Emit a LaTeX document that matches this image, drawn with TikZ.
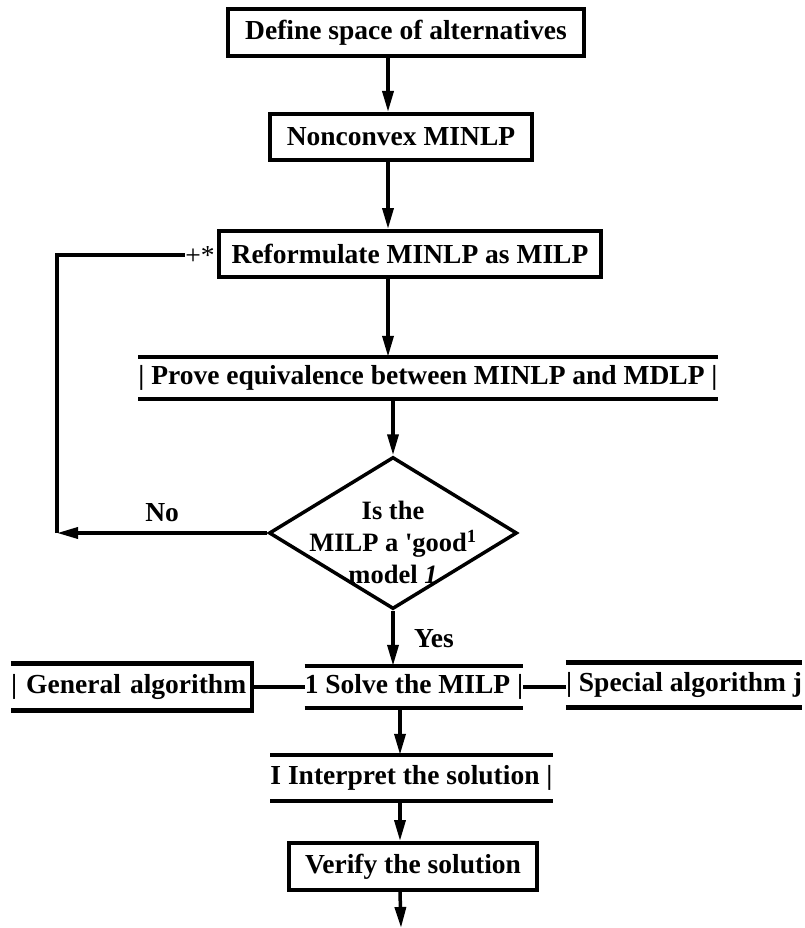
\documentclass[tikz,border=0pt]{standalone}
\usepackage{fontspec}
\setmainfont{Liberation Serif}
\usetikzlibrary{positioning,arrows.meta,shapes.geometric}

\begin{document}
\begin{tikzpicture}[
  x=1pt, y=-1pt,
  font=\fontsize{27.5}{32}\selectfont\bfseries,
  box/.style={draw, line width=4pt, inner sep=0pt},
  bar/.style={inner sep=0pt},
  rule/.style={line width=4.5pt, line join=miter},
  arr/.style={-{Triangle[length=21pt,width=11pt]}, line width=3.5pt},
  link/.style={line width=3.5pt}
]
  \useasboundingbox (0,0) rectangle (804,928);
  \coordinate (spine) at (388,0);
  \coordinate (low) at (400,0);

  \node[box, minimum width=356pt, minimum height=47pt] (define) at (406,32.5) {Define space of alternatives};
  \node[box, minimum width=262pt, minimum height=46pt] (nonconvex) at (401,137) {Nonconvex MINLP};
  \node[box, minimum width=382pt, minimum height=46pt] (reform) at (410,254) {Reformulate MINLP as MILP};
  \node[bar, minimum width=578pt, minimum height=42pt] (prove) at (428,378) {| Prove equivalence between MINLP and MDLP |};
  \node[draw, diamond, line width=3.5pt, inner sep=0pt, minimum width=248pt, minimum height=152pt] (good) at (393,533) {};
  \node[align=center, font=\fontsize{26.5}{32}\selectfont\bfseries] (goodtext) at (393,542) {Is the\\MILP a \textquotesingle good\textsuperscript{1}\\model \textit{1}};

  \node[bar, minimum width=241pt, minimum height=47pt, text width=241pt, align=left] (general) at (131.5,687) {| General algorithm};
  \node[bar, minimum width=216pt, minimum height=42pt] (solve) at (414,687) {1 Solve the MILP |};
  \node[bar, minimum width=234pt, minimum height=45pt] (special) at (684,685) {| Special algorithm j};
  \node[bar, minimum width=277pt, minimum height=46pt] (interpret) at (411.5,778) {I Interpret the solution |};
  \node[box, minimum width=248pt, minimum height=47pt] (verify) at (413,866.5) {Verify the solution};

  \node[font=\fontsize{27.5}{32}\selectfont\mdseries, inner sep=0pt] (plus) at (200,255) {+*};
  \coordinate (turn) at (57,533);
  \coordinate (finish) at (401,928);

  % open bars
  \draw[rule] (prove.north west) -- (prove.north east);
  \draw[rule] (prove.south west) -- (prove.south east);
  \draw[rule] (general.north west) -- (general.north east) -- (general.south east) -- (general.south west);
  \draw[rule] (solve.north west) -- (solve.north east);
  \draw[rule] (solve.south west) -- (solve.south east);
  \draw[rule] (special.north west) -- (special.north east);
  \draw[rule] (special.south west) -- (special.south east);
  \draw[rule] (interpret.north west) -- (interpret.north east);
  \draw[rule] (interpret.south west) -- (interpret.south east);

  \draw[arr] (define.south -| spine) -- (nonconvex.north -| spine);
  \draw[arr] (nonconvex.south -| spine) -- (reform.north -| spine);
  \draw[arr] (reform.south -| spine) -- (prove.north -| spine);
  \draw[arr] (prove.south -| good.north) -- (good.north);
  \draw[arr] (good.west) -- node[above=6pt] {No} (turn);
  \draw[link] (turn) |- (plus.west);
  \draw[arr] (good.south) -- node[right=16pt] {Yes} (solve.north -| good.south);
  \draw[link] (general.east) -- (general.east -| solve.west);
  \draw[link] (solve.east) -- (solve.east -| special.west);
  \draw[arr] (solve.south -| low) -- (interpret.north -| low);
  \draw[arr] (interpret.south -| low) -- (verify.north -| low);
  \draw[arr] (verify.south -| low) -- (finish);
\end{tikzpicture}
\end{document}
